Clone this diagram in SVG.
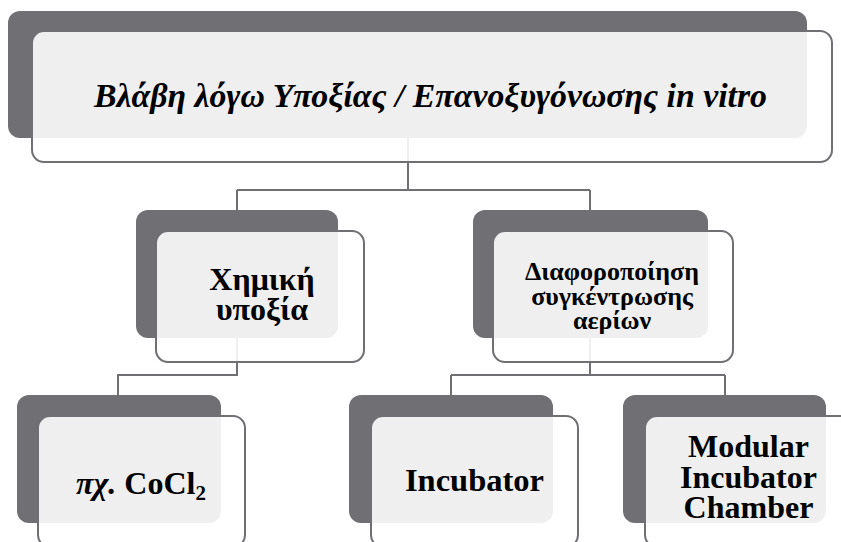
<svg xmlns="http://www.w3.org/2000/svg" width="841" height="542" viewBox="0 0 841 542">
<style>
.back{fill:#706f74}
.front{fill:#ffffff;fill-opacity:0.89;stroke:#706f74;stroke-width:2}
.conn{fill:none;stroke:#706f74;stroke-width:2}
text{font-family:"Liberation Serif","Times New Roman",serif;font-weight:bold;fill:#000;text-anchor:middle}
</style>
<rect width="841" height="542" fill="#ffffff"/>
<g id="connectors">
<path class="conn" d="M408,138 V190 M237,190 H590 M237,190 V210 M590,190 V210"/>
<path class="conn" d="M237,338 V375 H118 V395"/>
<path class="conn" d="M590,338 V375 M451,375 H725 M451,375 V395 M725,375 V395"/>
</g>
<g id="root">
<rect class="back" x="8" y="11" width="799" height="127" rx="12"/>
<rect class="front" x="32" y="31" width="800" height="131" rx="12"/>
<text x="430.5" y="107" font-size="33" font-style="italic" textLength="673" lengthAdjust="spacingAndGlyphs">Βλάβη λόγω Υποξίας / Επανοξυγόνωσης in vitro</text>
</g>
<g id="chemical">
<rect class="back" x="136" y="210" width="202" height="128" rx="12"/>
<rect class="front" x="156" y="231" width="208" height="131" rx="12"/>
<text x="262" y="290" font-size="32">Χημική</text>
<text x="262" y="320" font-size="32">υποξία</text>
</g>
<g id="gas">
<rect class="back" x="473" y="210" width="235" height="128" rx="12"/>
<rect class="front" x="493" y="231" width="240" height="131" rx="12"/>
<text x="612" y="280" font-size="26">Διαφοροποίηση</text>
<text x="612" y="305" font-size="26">συγκέντρωσης</text>
<text x="612" y="329" font-size="26">αερίων</text>
</g>
<g id="cocl2">
<rect class="back" x="17" y="395" width="204" height="128" rx="12"/>
<rect class="front" x="38" y="416" width="207" height="131" rx="12"/>
<text x="141" y="494" font-size="32"><tspan font-style="italic">πχ.</tspan> CoCl<tspan font-size="21" dy="6">2</tspan></text>
</g>
<g id="incubator">
<rect class="back" x="349" y="395" width="204" height="128" rx="12"/>
<rect class="front" x="371" y="416" width="207" height="131" rx="12"/>
<text x="474.5" y="491" font-size="32.5">Incubator</text>
</g>
<g id="modular">
<rect class="back" x="623" y="395" width="203" height="128" rx="12"/>
<rect class="front" x="645" y="416" width="207" height="131" rx="12"/>
<text x="748.5" y="457" font-size="32">Modular</text>
<text x="748.5" y="488" font-size="32">Incubator</text>
<text x="748.5" y="518" font-size="32">Chamber</text>
</g>
</svg>
